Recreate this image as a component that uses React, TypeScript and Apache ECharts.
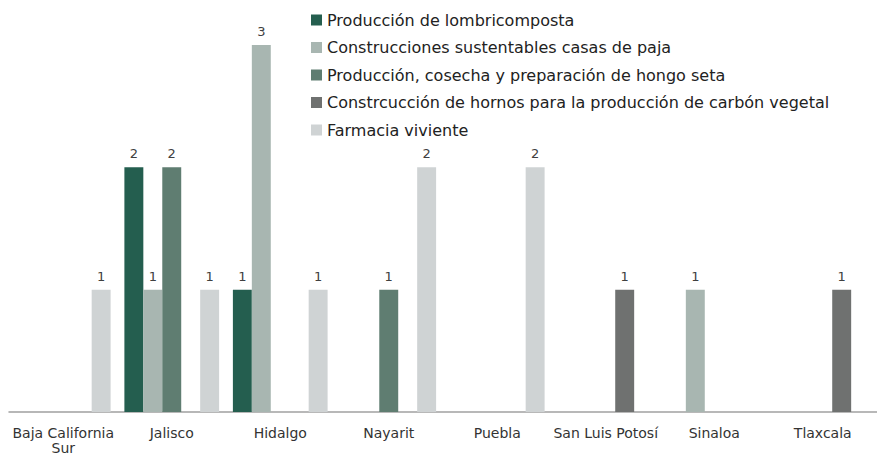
import React, { useEffect, useRef } from "react";
import * as echarts from "echarts";

const estados = [
  "Baja California Sur",
  "Jalisco",
  "Hidalgo",
  "Nayarit",
  "Puebla",
  "San Luis Potosí",
  "Sinaloa",
  "Tlaxcala",
];

const lombricomposta = [null, 2, 1, null, null, null, null, null];
const casasPaja = [null, 1, 3, null, null, null, 1, null];
const hongoSeta = [null, 2, null, 1, null, null, null, null];
const hornosCarbon = [null, null, null, null, null, 1, null, 1];
const farmacia = [1, 1, 1, 2, 2, null, null, null];

const seriesDef = [
  { name: "Producción de lombricomposta", data: lombricomposta, color: "#245e4f" },
  { name: "Construcciones sustentables casas de paja", data: casasPaja, color: "#a8b6b1" },
  { name: "Producción, cosecha y preparación de hongo seta", data: hongoSeta, color: "#5f7d71" },
  { name: "Constrcucción de hornos para la producción de carbón vegetal", data: hornosCarbon, color: "#6f7170" },
  { name: "Farmacia viviente", data: farmacia, color: "#cfd3d4" },
];

const FONT = "'DejaVu Sans', 'Noto Sans', sans-serif";

export default function App() {
  const ref = useRef<HTMLDivElement>(null);

  useEffect(() => {
    if (!ref.current) return;
    const chart = echarts.init(ref.current, null, { renderer: "svg" });
    chart.setOption({
      animation: false,
      textStyle: { fontFamily: FONT },
      legend: {
        orient: "vertical",
        left: 306,
        top: 7,
        itemWidth: 11,
        itemHeight: 11,
        itemGap: 11.5,
        icon: "rect",
        textStyle: { fontFamily: FONT, fontSize: 16, color: "#222" },
      },
      grid: { left: 9, top: 45, width: 878, bottom: 39, containLabel: false },
      xAxis: {
        type: "category",
        data: estados,
        axisLine: { lineStyle: { color: "#a0a0a0", width: 1.5 } },
        axisTick: { show: false },
        axisLabel: {
          fontFamily: FONT,
          fontSize: 14,
          lineHeight: 15,
          color: "#333",
          margin: 13,
          interval: 0,
          formatter: (v: string) => (v === "Baja California Sur" ? "Baja California\nSur" : v),
        },
      },
      yAxis: {
        type: "value",
        min: 0,
        max: 3,
        show: false,
        splitLine: { show: false },
      },
      series: seriesDef.map((s) => ({
        type: "bar",
        name: s.name,
        data: s.data,
        barGap: "0%",
        barCategoryGap: "12.7%",
        itemStyle: { color: s.color },
        label: {
          show: true,
          position: "top",
          distance: 7,
          fontFamily: FONT,
          fontSize: 13,
          color: "#404040",
        },
      })),
    });
    return () => chart.dispose();
  }, []);

  return <div ref={ref} style={{ width: 877, height: 455, position: "absolute", left: 0, top: 0 }} />;
}
